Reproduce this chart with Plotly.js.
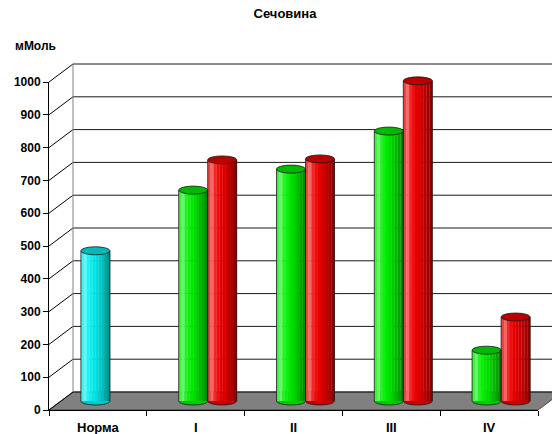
<!DOCTYPE html>
<html>
<head>
<meta charset="utf-8">
<script src="https://cdn.plot.ly/plotly-3.0.1.min.js"></script>
<style>
  html, body { margin: 0; padding: 0; background: #fff; }
  #chart { width: 552px; height: 434px; }
</style>
</head>
<body>
<div id="chart"></div>
<script>
// Сечовина, мМоль — values per group
const categories = ['Норма', 'I', 'II', 'III', 'IV'];
const seriesA = [458, 643, 707, 823, 155];
const seriesB = [null, 735, 738, 976, 256];
const yTickValues = [0, 100, 200, 300, 400, 500, 600, 700, 800, 900, 1000];
const yMax = 1000;

// ---- pseudo-3D geometry (pixels) ----
const W = 552, H = 434;
const margin = { l: 49, r: 0, t: 64, b: 24 };
const plotW = W - margin.l - margin.r;   // 503
const plotH = H - margin.t - margin.b;   // 346
const frontW = 489, frontH = 328;        // front plane of the box
const depthX = 24, depthY = 18;          // offset of back wall
const catPx = frontW / categories.length;
const valPx = frontH / yMax;
const barW = 29 / catPx;                 // cylinder width in category units
const ry = 4 / valPx;                    // half-height of the cylinder ellipses
const FONT = 'Liberation Sans, Arial, sans-serif';

// front-plane (category, value, depth 0..1) -> paper coordinates
function P(cat, val, depth) {
  const px = (cat + 0.5) * catPx + depth * depthX;
  const py = val * valPx + depth * depthY;
  return [px / plotW, py / plotH];
}

// ---- shading for cylinder bodies ----
const baseColors = {
  cyan:  [0, 238, 238],
  green: [0, 238, 0],
  red:   [238, 0, 0]
};
const profile = [0.25, 0.4, 0.15, 0.05, 0.97, 0.92, 0.86, 0.78, 0.7, 0.6];
const N = profile.length;
function shade(rgb, k) {
  const f = profile[k];
  let c;
  if (k < 4) c = rgb.map(v => Math.round(v + (255 - v) * f));
  else c = rgb.map(v => Math.round(v * f));
  return 'rgb(' + c.join(',') + ')';
}
function solid(rgb, f) {
  return 'rgb(' + rgb.map(v => Math.round(v * f)).join(',') + ')';
}
const seriesAKinds = categories.map((_, i) => (i === 0 ? 'cyan' : 'green'));
const seriesBKinds = categories.map(() => 'red');

const seriesList = [
  { values: seriesA, kinds: seriesAKinds, offset: -barW },
  { values: seriesB, kinds: seriesBKinds, offset: 0 }
];

// front axes carry the category / value ticks
const traces = [{
  type: 'scatter', mode: 'none',
  x: categories, y: seriesA,
  xaxis: 'x', yaxis: 'y',
  hoverinfo: 'skip', showlegend: false
}];

seriesList.forEach(s => {
  for (let k = 0; k < N; k++) {
    traces.push({
      type: 'bar',
      x: categories,
      y: s.values,
      base: 0,
      xaxis: 'x2', yaxis: 'y2',
      width: barW / N * 1.08,
      offset: s.offset + k * barW / N,
      marker: { color: s.kinds.map(kind => shade(baseColors[kind], k)), line: { width: 0 } },
      hoverinfo: 'skip',
      showlegend: false
    });
  }
});

// ---- box: floor, back wall grid, side wall diagonals ----
const shapes = [];
function pathFromPts(pts, close) {
  return pts.map((p, i) => (i ? 'L' : 'M') + p[0] + ',' + p[1]).join(' ') + (close ? ' Z' : '');
}
const last = categories.length - 0.5;
shapes.push({
  type: 'path', xref: 'paper', yref: 'paper', layer: 'below',
  path: pathFromPts([P(-0.5, 0, 0), P(last, 0, 0), P(last, 0, 1), P(-0.5, 0, 1)], true),
  fillcolor: '#808080', line: { color: '#404040', width: 1 }
});
yTickValues.forEach(v => {
  const a = P(-0.5, v, 1), b = P(last, v, 1);
  shapes.push({ type: 'line', xref: 'paper', yref: 'paper', layer: 'below',
    x0: a[0], y0: a[1], x1: b[0], y1: b[1], line: { color: '#1a1a1a', width: 1 } });
  const c = P(-0.5, v, 0);
  shapes.push({ type: 'line', xref: 'paper', yref: 'paper', layer: 'below',
    x0: c[0], y0: c[1], x1: a[0], y1: a[1], line: { color: '#000', width: 1 } });
});
{
  const a = P(-0.5, 0, 1), b = P(-0.5, yMax, 1);
  shapes.push({ type: 'line', xref: 'paper', yref: 'paper', layer: 'below',
    x0: a[0], y0: a[1], x1: b[0], y1: b[1], line: { color: '#808080', width: 1 } });
}

// ---- cylinder ends and outlines, in the bar axes ----
const K = 0.5523;
seriesList.forEach(s => {
  s.values.forEach((v, i) => {
    if (v === null || v === undefined) return;
    const rgb = baseColors[s.kinds[i]];
    const L = i + s.offset, R = L + barW, c = (L + R) / 2, a = barW / 2;
    const arc = `C ${L},${-K * ry} ${c - K * a},${-ry} ${c},${-ry} C ${c + K * a},${-ry} ${R},${-K * ry} ${R},0`;
    shapes.push({ type: 'path', xref: 'x2', yref: 'y2', layer: 'above',
      path: `M ${L},0 ${arc} Z`, fillcolor: solid(rgb, 0.85), line: { width: 0 } });
    shapes.push({ type: 'path', xref: 'x2', yref: 'y2', layer: 'above',
      path: `M ${L},${v} L ${L},0 ${arc} L ${R},${v}`,
      fillcolor: 'rgba(0,0,0,0)', line: { color: '#1a1a1a', width: 0.8 } });
    shapes.push({ type: 'circle', xref: 'x2', yref: 'y2', layer: 'above',
      x0: L, x1: R, y0: v - ry, y1: v + ry,
      fillcolor: solid(rgb, 0.78), line: { color: '#1a1a1a', width: 0.8 } });
  });
});

const x2Left = -0.5 - (depthX / 2) / catPx;
const y2Bottom = -(depthY / 2) / valPx;

const layout = {
  width: W, height: H,
  margin: margin,
  paper_bgcolor: '#fff',
  plot_bgcolor: 'rgba(0,0,0,0)',
  barmode: 'overlay',
  showlegend: false,
  font: { family: FONT, size: 12, color: '#000' },
  title: {
    text: 'Сечовина',
    font: { family: FONT, size: 13, weight: 'bold', color: '#000' },
    xref: 'container', x: 285 / W, xanchor: 'center',
    yref: 'container', y: 1 - 13 / H, yanchor: 'middle'
  },
  xaxis: {
    type: 'category',
    categoryorder: 'array', categoryarray: categories,
    range: [-0.5, categories.length - 0.5],
    domain: [0, frontW / plotW],
    anchor: 'y',
    showline: true, linecolor: '#000', linewidth: 1,
    ticks: 'outside', tickson: 'boundaries', ticklen: 5, tickcolor: '#000', tickwidth: 1,
    ticklabelstandoff: 5,
    showgrid: false, zeroline: false, fixedrange: true,
    tickfont: { family: FONT, size: 13, weight: 'bold', color: '#000' }
  },
  yaxis: {
    range: [0, yMax],
    domain: [0, frontH / plotH],
    anchor: 'x',
    tickvals: yTickValues,
    showline: true, linecolor: '#000', linewidth: 1,
    ticks: 'outside', ticklen: 5, tickcolor: '#000', tickwidth: 1,
    showgrid: false, zeroline: false, fixedrange: true,
    tickfont: { family: FONT, size: 12, weight: 'bold', color: '#000' }
  },
  xaxis2: {
    type: 'category',
    categoryorder: 'array', categoryarray: categories,
    range: [x2Left, x2Left + plotW / catPx],
    domain: [0, 1], anchor: 'y2', visible: false, fixedrange: true
  },
  yaxis2: {
    range: [y2Bottom, y2Bottom + plotH / valPx],
    domain: [0, 1], anchor: 'x2', visible: false, fixedrange: true
  },
  shapes: shapes,
  annotations: [{
    text: 'мМоль', showarrow: false,
    xref: 'paper', x: (13 - margin.l) / plotW, xanchor: 'left',
    yref: 'paper', y: (H - margin.b - 46) / plotH, yanchor: 'middle',
    font: { family: FONT, size: 12, weight: 'bold', color: '#000' }
  }]
};

Plotly.newPlot('chart', traces, layout, { displayModeBar: false, staticPlot: true });
</script>
</body>
</html>
